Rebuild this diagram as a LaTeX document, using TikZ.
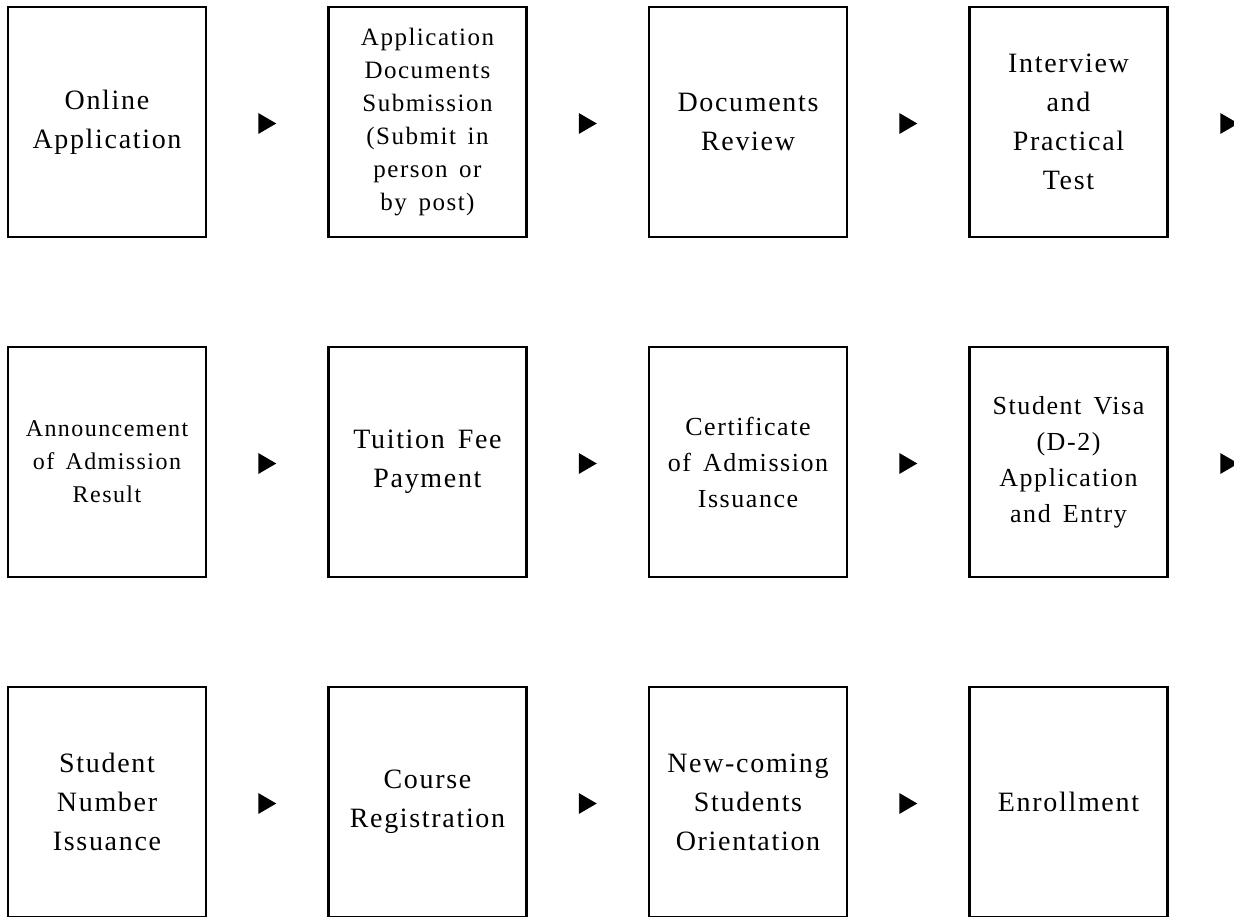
\documentclass[tikz,border=0pt]{standalone}
\usepackage{fontspec}
\setmainfont{Liberation Serif}[WordSpace=1.5, LetterSpace=6]
\usepackage{tikz}
\usetikzlibrary{calc}
\definecolor{ink}{HTML}{000000}
\tikzset{
  stage/.style={draw=ink, line width=2.6pt, minimum width=198pt, minimum height=230pt, inner sep=0pt, align=center, text=ink, font=\fontsize{28}{39}\selectfont},
  smalltxt/.style={font=\fontsize{25}{33}\selectfont},
  midtxt/.style={font=\fontsize{26}{36}\selectfont},
  tip/.style={fill=ink},
}

\begin{document}
\begin{tikzpicture}[x=1pt, y=-1pt]
  \useasboundingbox (0,0) rectangle (1234,917);

  % first row
  \node[stage] (online) at (107,122) {Online\\Application};
  \node[stage, smalltxt] (submit) at (427.5,122) {Application\\Documents\\Submission\\(Submit in\\person or\\by post)};
  \node[stage] (review) at (748,122) {Documents\\Review};
  \node[stage] (interview) at (1068.5,122) {Interview\\and\\Practical\\Test};

  % second row
  \node[stage, font=\fontsize{24}{33}\selectfont] (result) at (107,462) {Announcement\\of Admission\\Result};
  \node[stage] (fee) at (427.5,462) {Tuition Fee\\Payment};
  \node[stage, midtxt] (certificate) at (748,462) {Certificate\\of Admission\\Issuance};
  \node[stage, midtxt] (visa) at (1068.5,462) {Student Visa\\(D-2)\\Application\\and Entry};

  % third row
  \node[stage] (number) at (107,802) {Student\\Number\\Issuance};
  \node[stage] (course) at (427.5,802) {Course\\Registration};
  \node[stage] (orientation) at (748,802) {New-coming\\Students\\Orientation};
  \node[stage] (enroll) at (1068.5,802) {Enrollment};

  % arrowheads between the stages
  \foreach \a/\b in {online/submit, submit/review, review/interview,
                     result/fee, fee/certificate, certificate/visa,
                     number/course, course/orientation, orientation/enroll} {
    \coordinate (m) at ($(\a.east)!0.5!(\b.west)+(0,1.5)$);
    \fill[tip] ($(m)+(-9,-10.5)$) -- ($(m)+(9,0)$) -- ($(m)+(-9,10.5)$) -- cycle;
  }
  % arrowheads at the row ends
  \foreach \a in {interview, visa} {
    \coordinate (m) at ($(\a.east)+(60.5,1.5)$);
    \fill[tip] ($(m)+(-9,-10.5)$) -- ($(m)+(9,0)$) -- ($(m)+(-9,10.5)$) -- cycle;
  }
\end{tikzpicture}
\end{document}
